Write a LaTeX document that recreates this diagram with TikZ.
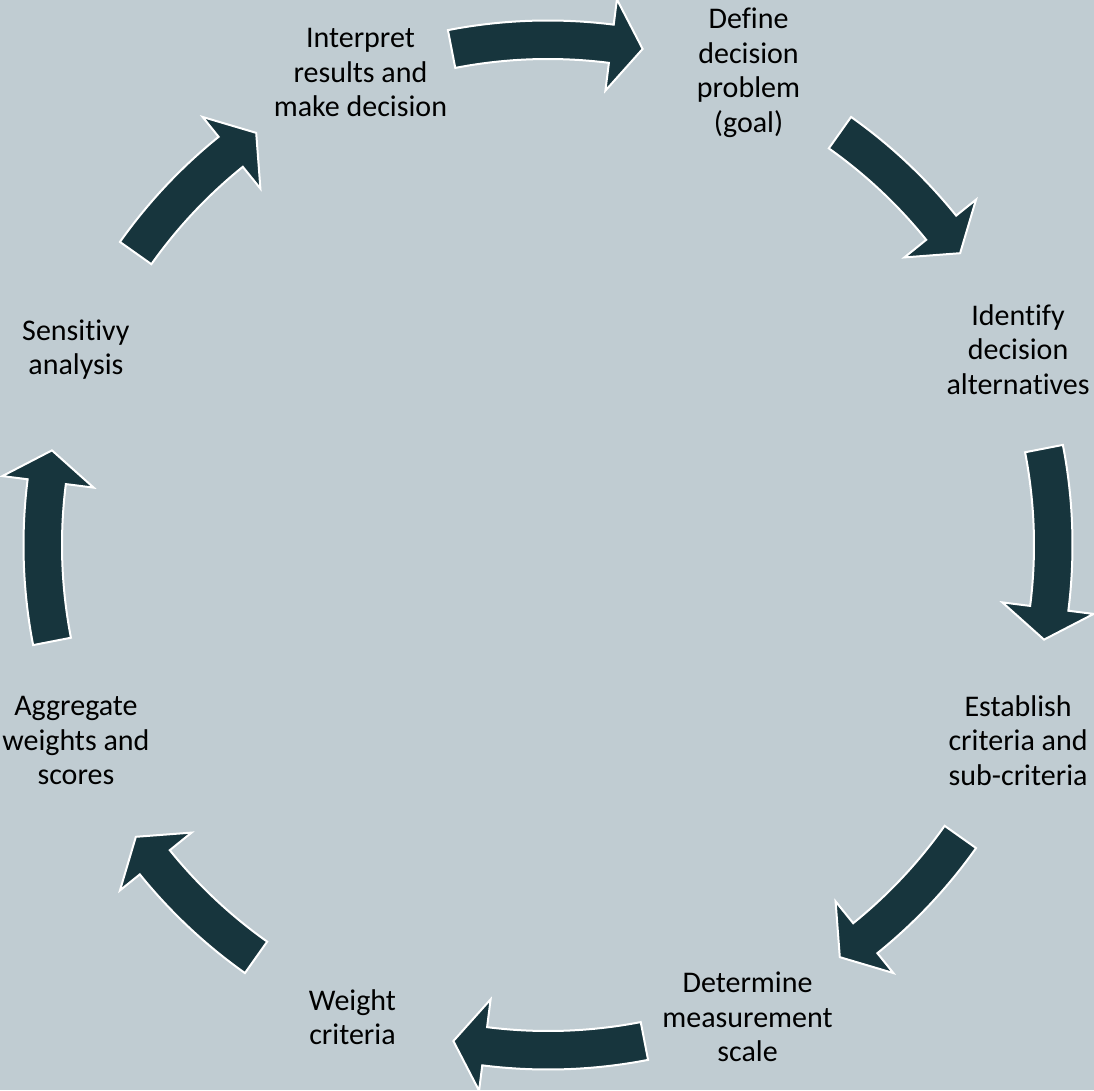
\documentclass[tikz,border=0pt]{standalone}
\usepackage{fontspec}
\usetikzlibrary{calc}
\setmainfont{Carlito}[Ligatures=NoCommon]
\definecolor{bgcol}{RGB}{192,204,210}
\definecolor{arrowcol}{RGB}{23,53,61}
\newcommand\cycarrow[4]{%
  \pgfmathsetmacro\cta{#1+#2}%
  \pgfmathsetmacro\cba{#1-#3}%
  \pgfmathsetmacro\cpa{#1-#4}%
  \draw[cycarrowstyle] (\cta:524.5pt) arc[start angle=\cta, end angle=\cba, radius=524.5pt]
    -- (\cba:550pt) -- (\cpa:505pt) -- (\cba:458pt) -- (\cba:486pt)
    arc[start angle=\cba, end angle=\cta, radius=486pt] -- cycle;}
\begin{document}
\begin{tikzpicture}[x=1pt,y=1pt,
  cycarrowstyle/.style={fill=arrowcol,draw=white,line width=2pt,line join=miter},
  steptext/.style={align=center,inner sep=0pt,text=black,font=\fontsize{30}{34.5}\selectfont}]
\fill[bgcol] (-548,-545) rectangle (546,545);
\useasboundingbox (-548,-545) rectangle (546,545);
% arrows (clockwise)
\cycarrow{90}{11}{7.2}{10.8}
\cycarrow{45}{9.7}{6.1}{9.7}
\cycarrow{0}{11}{7.2}{10.8}
\cycarrow{-45}{9.7}{6.1}{9.7}
\cycarrow{-90}{11}{7.2}{10.8}
\cycarrow{-135}{9.7}{6.1}{9.7}
\cycarrow{180}{11}{7.2}{10.8}
\cycarrow{135}{9.7}{6.1}{9.7}
% texts
\node[steptext] (n1) at ($(67.5:511)+(5,0)$) {Define\\decision\\problem\\(goal)};
\node[steptext] (n2) at ($(22.5:511)+(-2,0)$) {Identify\\decision\\alternatives};
\node[steptext] (n3) at ($(-22.5:511)+(-2,0)$) {Establish\\criteria and\\sub-criteria};
\node[steptext] (n4) at ($(-67.5:511)+(4,0)$) {Determine\\measurement\\scale};
\node[steptext] (n5) at (-112.5:511) {Weight\\criteria};
\node[steptext] (n6) at (-157.5:511) {Aggregate\\weights and\\scores};
\node[steptext] (n7) at (157.5:511) {Sensitivy\\analysis};
\node[steptext] (n8) at ($(112.5:511)+(8,0)$) {Interpret\\results and\\make decision};
\end{tikzpicture}
\end{document}
